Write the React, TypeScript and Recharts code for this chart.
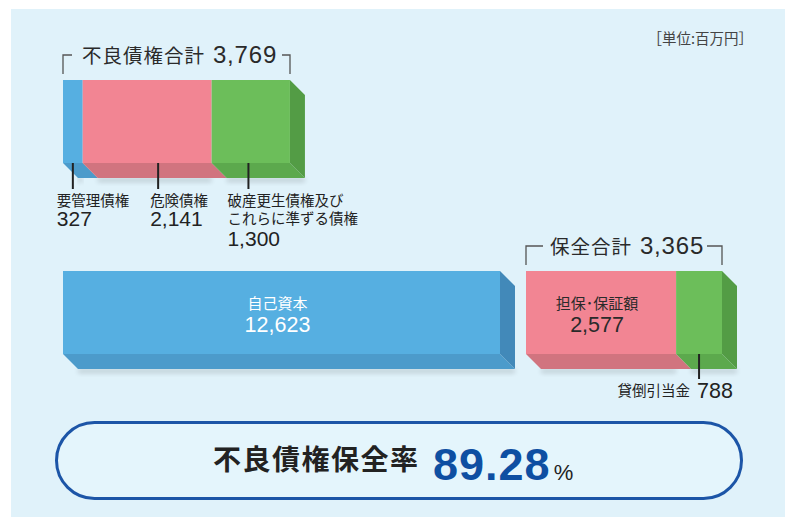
import { Bar, BarChart, LabelList, ReferenceArea, XAxis, YAxis } from "recharts";

if (typeof document !== "undefined") document.body.style.margin = "0";

const W = 792;
const H = 517;

// 不良債権の内訳（単位：百万円）
const NPL_NAMES = ["要管理債権", "危険債権", "破産更生債権及び\nこれらに準ずる債権"];
const NPL_VALUES = [327, 2141, 1300];
const NPL_TITLE = "不良債権合計";
const NPL_TOTAL = 3769;

const CAPITAL_NAME = "自己資本";
const CAPITAL_VALUE = 12623;

const COVER_NAMES = ["担保･保証額", "貸倒引当金"];
const COVER_VALUES = [2577, 788];
const COVER_TITLE = "保全合計";
const COVER_TOTAL = 3365;

const RATE_LABEL = "不良債権保全率";
const RATE_VALUE = "89.28";
const UNIT_LABEL = "［単位:百万円］";

// 見た目
const JP = "'Noto Sans CJK JP', sans-serif";
const NUM = "'Liberation Sans', Arial, 'Noto Sans CJK JP', sans-serif";
const DEPTH = 15;
const BLUE = { front: "#56afe1", bottom: "#4c9bcb", side: "#4289b9" };
const PINK = { front: "#f28593", bottom: "#d1747f", side: "#c46a75" };
const GREEN = { front: "#6cbe5a", bottom: "#5ca94d", side: "#539c45" };
const NPL_TONES = [BLUE, PINK, GREEN];
const COVER_TONES = [PINK, GREEN];
// 引き出し線の位置（区画内の割合）と文字のずれ
const NPL_LEADER = [0.5, 0.585, 0.47];
const NPL_TEXT_SHIFT = [-16, -8, -21];

const fmt = (v: number) => v.toLocaleString("en-US");

const nplRow = NPL_VALUES.reduce<Record<string, number | string>>(
  (row, v, i) => ({ ...row, [`s${i}`]: v }),
  { name: NPL_TITLE },
);
const capitalRow = { name: CAPITAL_NAME, v: CAPITAL_VALUE };
const coverRow = COVER_VALUES.reduce<Record<string, number | string>>(
  (row, v, i) => ({ ...row, [`s${i}`]: v }),
  { name: COVER_TITLE },
);

const box = (p: any) => {
  const v = p.viewBox && p.viewBox.width != null ? p.viewBox : p;
  return { x: Number(v.x), y: Number(v.y), width: Number(v.width), height: Number(v.height) };
};

let shadowSeq = 0;

// 立体風の棒（前面＋底面＋右側面）
function block(tone: typeof BLUE, withSide: boolean) {
  const fid = `soft${shadowSeq++}`;
  return (p: any) => {
    const { x, y, width, height } = p;
    const b = y + height;
    const r = x + width;
    const e = withSide ? DEPTH : 0;
    return (
      <g>
        <defs>
          <filter id={fid} x="-10%" y="-100%" width="120%" height="300%">
            <feGaussianBlur stdDeviation={2.5} />
          </filter>
        </defs>
        <polygon
          points={`${x + DEPTH},${b + DEPTH} ${r + e},${b + DEPTH} ${r + e},${b + DEPTH + 4} ${x + DEPTH},${b + DEPTH + 4}`}
          fill="#000"
          opacity={0.16}
          filter={`url(#${fid})`}
        />
        <polygon
          points={`${x},${b} ${r},${b} ${r + DEPTH},${b + DEPTH} ${x + DEPTH},${b + DEPTH}`}
          fill={tone.bottom}
        />
        {withSide && (
          <polygon
            points={`${r},${y} ${r + DEPTH},${y + DEPTH} ${r + DEPTH},${b + DEPTH} ${r},${b}`}
            fill={tone.side}
          />
        )}
        <rect x={x} y={y} width={width} height={height} fill={tone.front} />
      </g>
    );
  };
}

// 合計の括弧
function bracket(title: string, total: number, tickL: number, tickR: number) {
  return (p: any) => {
    const { x, y, width } = p;
    const top = y - 25;
    const bot = y - 6;
    const r = x + width;
    return (
      <g>
        <polyline points={`${x + tickL},${top} ${x},${top} ${x},${bot}`} fill="none" stroke="#555" strokeWidth={1.3} />
        <polyline points={`${r - tickR},${top} ${r},${top} ${r},${bot}`} fill="none" stroke="#555" strokeWidth={1.3} />
        <text x={x + width / 2 + 3} y={top + 8} textAnchor="middle" fill="#2a2a2a">
          <tspan fontFamily={JP} fontSize={19.5} letterSpacing={1}>
            {title}
          </tspan>
          <tspan fontFamily={NUM} fontSize={24} dx={8} letterSpacing={0.8}>
            {fmt(total)}
          </tspan>
        </text>
      </g>
    );
  };
}

function nplLabel(i: number) {
  return (p: any) => {
    const { x, y, width, height } = box(p);
    const b = y + height;
    const lx = x + width * NPL_LEADER[i];
    const tx = lx + NPL_TEXT_SHIFT[i];
    const lines = NPL_NAMES[i].split("\n");
    return (
      <g>
        <line x1={lx} y1={b} x2={lx} y2={b + 26} stroke="#222" strokeWidth={2} />
        {lines.map((t, k) => (
          <text key={k} x={tx} y={b + 42.5 + k * 18.5} fontSize={14.5} fill="#222" fontFamily={JP}>
            {t}
          </text>
        ))}
        <text x={tx} y={b + 62.5 + (lines.length - 1) * 20} fontSize={21} fill="#222" fontFamily={NUM}>
          {fmt(NPL_VALUES[i])}
        </text>
      </g>
    );
  };
}

function innerLabel(name: string, value: number, color: string) {
  return (p: any) => {
    const { x, y, width, height } = box(p);
    const cx = x + width / 2 - 4;
    const cy = y + height / 2;
    return (
      <g fill={color} textAnchor="middle">
        <text x={cx} y={cy - 4} fontSize={15} fontFamily={JP}>
          {name}
        </text>
        <text x={cx} y={cy + 19} fontSize={21.5} fontFamily={NUM}>
          {fmt(value)}
        </text>
      </g>
    );
  };
}

function allowanceLabel(p: any) {
  const { x, y, width, height } = box(p);
  const b = y + height;
  const lx = x + width / 2;
  return (
    <g fill="#222">
      <line x1={lx} y1={b} x2={lx} y2={b + 25} stroke="#222" strokeWidth={2} />
      <text x={lx - 9} y={b + 41.5} textAnchor="end" fontSize={14.5} fontFamily={JP}>
        {COVER_NAMES[1]}
      </text>
      <text x={lx - 2} y={b + 44} fontSize={21.5} fontFamily={NUM}>
        {fmt(COVER_VALUES[1])}
      </text>
    </g>
  );
}

const layer: React.CSSProperties = { position: "absolute", left: 0, top: 0 };

export default function App() {
  return (
    <div style={{ position: "relative", width: W, height: H, overflow: "hidden", background: "#fff" }}>
      <div style={{ position: "absolute", left: 11, top: 9, width: 774, height: 508, background: "#e0f2fa" }} />

      {/* 不良債権 */}
      <div style={layer}>
        <BarChart
          width={W}
          height={H}
          data={[nplRow]}
          layout="vertical"
          barCategoryGap={0}
          margin={{ top: 80, bottom: H - 163, left: 63, right: W - 290 }}
        >
          <XAxis type="number" domain={[0, NPL_TOTAL]} hide />
          <YAxis type="category" dataKey="name" hide />
          <ReferenceArea x1={0} x2={NPL_TOTAL} ifOverflow="visible" shape={bracket(NPL_TITLE, NPL_TOTAL, 9, 8)} />
          {NPL_VALUES.map((_, i) => (
            <Bar
              key={i}
              dataKey={`s${i}`}
              stackId="npl"
              isAnimationActive={false}
              shape={block(NPL_TONES[i], i === NPL_VALUES.length - 1)}
            >
              <LabelList content={nplLabel(i)} />
            </Bar>
          ))}
        </BarChart>
      </div>

      {/* 自己資本 */}
      <div style={layer}>
        <BarChart
          width={W}
          height={H}
          data={[capitalRow]}
          layout="vertical"
          barCategoryGap={0}
          margin={{ top: 271, bottom: H - 354, left: 63, right: W - 500 }}
        >
          <XAxis type="number" domain={[0, CAPITAL_VALUE]} hide />
          <YAxis type="category" dataKey="name" hide />
          <Bar dataKey="v" isAnimationActive={false} shape={block(BLUE, true)}>
            <LabelList content={innerLabel(CAPITAL_NAME, CAPITAL_VALUE, "#fff")} />
          </Bar>
        </BarChart>
      </div>

      {/* 保全 */}
      <div style={layer}>
        <BarChart
          width={W}
          height={H}
          data={[coverRow]}
          layout="vertical"
          barCategoryGap={0}
          margin={{ top: 271, bottom: H - 354, left: 526, right: W - 722 }}
        >
          <XAxis type="number" domain={[0, COVER_TOTAL]} hide />
          <YAxis type="category" dataKey="name" hide />
          <ReferenceArea x1={0} x2={COVER_TOTAL} ifOverflow="visible" shape={bracket(COVER_TITLE, COVER_TOTAL, 17, 15)} />
          <Bar dataKey="s0" stackId="cover" isAnimationActive={false} shape={block(COVER_TONES[0], false)}>
            <LabelList content={innerLabel(COVER_NAMES[0], COVER_VALUES[0], "#2a2a2a")} />
          </Bar>
          <Bar dataKey="s1" stackId="cover" isAnimationActive={false} shape={block(COVER_TONES[1], true)}>
            <LabelList content={allowanceLabel} />
          </Bar>
        </BarChart>
      </div>

      {/* 単位と保全率 */}
      <svg width={W} height={H} style={layer}>
        <text x={753} y={44} textAnchor="end" fontSize={14.5} fill="#444" fontFamily={JP}>
          {UNIT_LABEL}
        </text>
        <rect x={56.5} y={422.5} width={685} height={76} rx={38} fill="#e4f5fc" stroke="#1c55a7" strokeWidth={3} />
        <text x={213} y={470} fontSize={28} fontWeight={700} letterSpacing={1.5} fill="#222" fontFamily={JP}>
          {RATE_LABEL}
        </text>
        <text x={433} y={480} fontSize={45} fontWeight={700} fill="#0e4fa2" fontFamily={NUM} letterSpacing={1}>
          {RATE_VALUE}
          <tspan fontSize={22} fill="#222" dx={3} fontWeight={400}>
            %
          </tspan>
        </text>
      </svg>
    </div>
  );
}
